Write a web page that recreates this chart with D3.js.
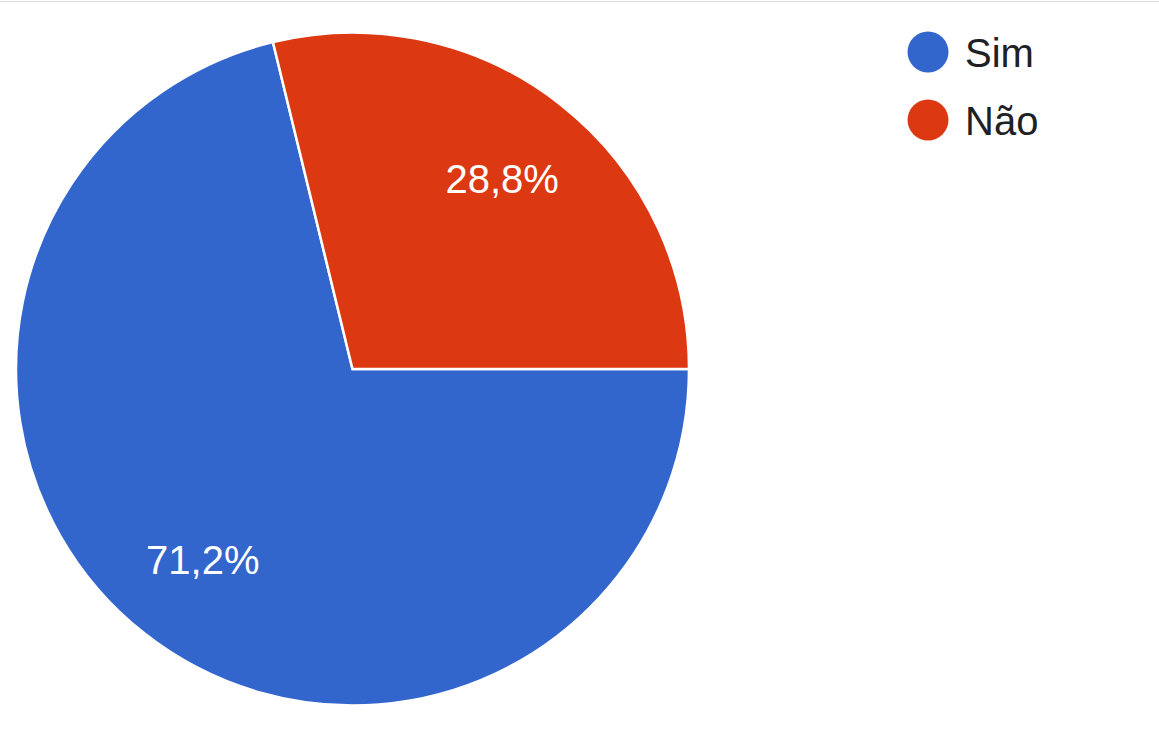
<!DOCTYPE html>
<html><head><meta charset="utf-8">
<script src="https://cdn.jsdelivr.net/npm/d3@7"></script>
<style>html,body{margin:0;padding:0;background:#fff;}svg{display:block;}</style>
</head><body>
<svg id="chart" width="1159" height="731"></svg>
<script>
const categories = ["Sim", "Não"];
const values = [71.2, 28.8];
const colors = ["#3366cc", "#dc3912"];
const labels = ["71,2%", "28,8%"];

const svg = d3.select("#chart");
const W = 1159, H = 731;
const cx = 352.5, cy = 369, R = 336.5;

svg.append("line").attr("x1", 0).attr("x2", W).attr("y1", 1.5).attr("y2", 1.5)
  .attr("stroke", "#dadce0").attr("stroke-width", 1);

const pie = d3.pie().sort(null).value(d => d)
  .startAngle(Math.PI / 2).endAngle(Math.PI / 2 + 2 * Math.PI);
const arcs = pie(values);
const arc = d3.arc().innerRadius(0).outerRadius(R);
const labelArc = d3.arc().innerRadius(R * 0.72).outerRadius(R * 0.72);
const color = d3.scaleOrdinal().domain(categories).range(colors);

const g = svg.append("g").attr("transform", `translate(${cx},${cy})`);
g.selectAll("path").data(arcs).enter().append("path")
  .attr("d", arc)
  .attr("fill", (d, i) => color(categories[i]))
  .attr("stroke", "#fff").attr("stroke-width", 2.5).attr("stroke-linejoin", "miter");

const fs = 40;
g.selectAll("text.lbl").data(arcs).enter().append("text")
  .attr("class", "lbl")
  .attr("x", d => labelArc.centroid(d)[0])
  .attr("y", d => labelArc.centroid(d)[1] + fs * 0.36)
  .attr("text-anchor", "middle")
  .attr("font-family", "Liberation Sans, Arial, sans-serif")
  .attr("font-size", fs)
  .attr("fill", "#fff")
  .text((d, i) => labels[i]);

const legY = d3.scalePoint().domain(categories).range([52, 120]);
const leg = svg.append("g");
categories.forEach(c => {
  leg.append("circle").attr("cx", 928).attr("cy", legY(c)).attr("r", 20.5).attr("fill", color(c));
  leg.append("text").attr("x", 965).attr("y", legY(c) + 14.5)
    .attr("font-family", "Liberation Sans, Arial, sans-serif")
    .attr("font-size", 40).attr("fill", "#202124").text(c);
});
</script>
</body></html>
